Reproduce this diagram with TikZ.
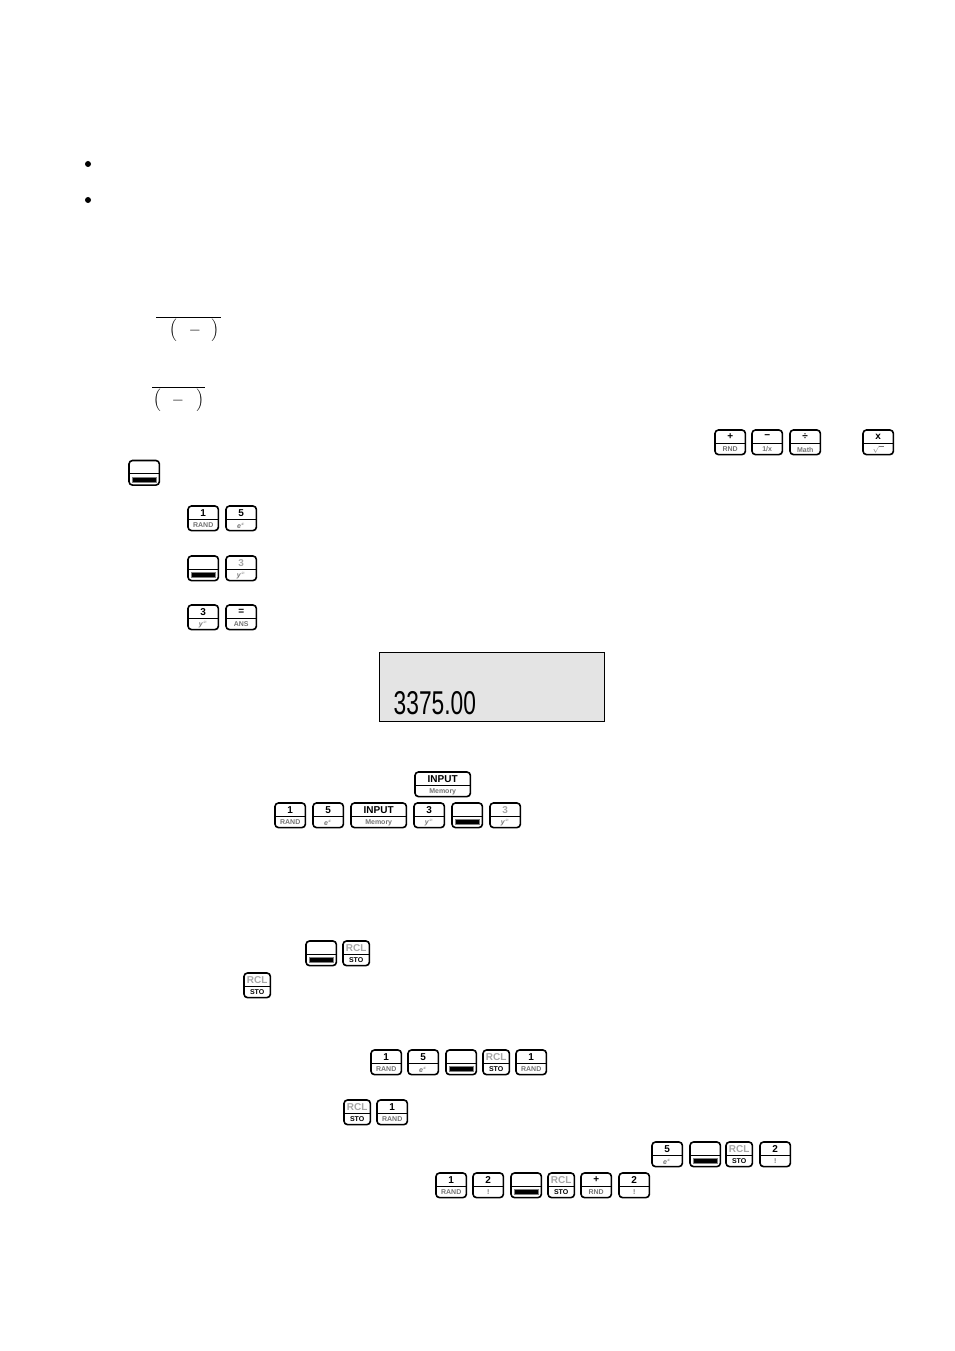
\documentclass[tikz,border=0pt]{standalone}
\usepackage{fontspec}
\setmainfont{Liberation Sans}
\definecolor{lcdgray}{HTML}{E4E4E4}
\tikzset{
  % outline of a calculator key
  keybody/.style={draw=black,line width=1.6pt,rounded corners=3.5pt,minimum height=24.6pt,inner sep=0pt,outer sep=0pt,anchor=north west},
  keytop/.style={inner sep=0pt,font=\fontsize{10}{11}\selectfont\bfseries},
  keybot/.style={inner sep=0pt,text=black!55,font=\fontsize{7}{8}\selectfont\bfseries},
  keybar/.style={fill=black,draw=black!50,line width=0.5pt},
  bullet/.style={circle,fill=black,inner sep=0pt,minimum size=6pt},
  bigsign/.style={inner sep=0pt,font=\fontsize{13}{15}\selectfont},
  overbar/.style={draw=black,line width=0.8pt},
}
% key with a top and a bottom label: name, left, top, width, labels
\newcommand{\calckey}[6]{
  \node [keybody,minimum width=#4pt-0.6pt] (#1) at (#2,#3) {};
  \path [draw=black,line width=1pt] ([yshift=-13pt]#1.north west) -- ([yshift=-13pt]#1.north east);
  \node [keytop] (#1top) at ([yshift=-7pt]#1.north) {#5};
  \node [keybot] (#1bot) at ([yshift=-19.5pt]#1.north) {#6};
}
% the key with only a black bar in its lower half
\newcommand{\barkey}[3]{
  \node [keybody,minimum width=30.4pt] (#1) at (#2,#3) {};
  \path [draw=black,line width=1pt] ([yshift=-13pt]#1.north west) -- ([yshift=-13pt]#1.north east);
  \path [keybar] ([xshift=3.5pt,yshift=-16.5pt]#1.north west) rectangle ([xshift=-3.5pt,yshift=-21.5pt]#1.north east);
}
\newcommand{\faint}[1]{\textcolor{black!35}{#1}}
\newcommand{\ysup}{\textit{y}$^{x}$}
\newcommand{\esup}{\textit{e}$^{x}$}
\newcommand{\bigparen}[1]{\scalebox{1.25}{$\Big#1$}}
\begin{document}
\begin{tikzpicture}[x=1pt,y=-1pt]
\useasboundingbox (0,0) rectangle (954,1351);
\node [bullet] (dotA) at (88,164) {};
\node [bullet] (dotB) at (88,200) {};

\coordinate (barAl) at (156,317);
\coordinate (barAr) at (221,317);
\path [overbar] (barAl) -- (barAr);
\node [bigsign] (parAl) at (173,330) {\bigparen{(}};
\node [bigsign] (minusA) at (195,331) {\scalebox{1.3}{$-$}};
\node [bigsign] (parAr) at (215,330) {\bigparen{)}};
\coordinate (barBl) at (152,387);
\coordinate (barBr) at (205,387);
\path [overbar] (barBl) -- (barBr);
\node [bigsign] (parBl) at (157,400) {\bigparen{(}};
\node [bigsign] (minusB) at (178,401) {\scalebox{1.3}{$-$}};
\node [bigsign] (parBr) at (200,400) {\bigparen{)}};

\calckey{plus}{715}{430}{31}{+}{RND}
\calckey{minus}{752}{430}{31}{\textminus}{1/x}
\calckey{divide}{790}{430}{31}{÷}{Math}
\calckey{times}{863}{430}{31}{x}{$\sqrt{\phantom{x}}$}
\barkey{shiftA}{129}{460.5}

\calckey{oneA}{188}{506}{31}{1}{RAND}
\calckey{fiveA}{226}{506}{31}{5}{\esup}
\barkey{shiftB}{188}{556}
\calckey{threeA}{226}{556}{31}{\faint{3}}{\ysup}
\calckey{threeB}{188}{605}{31}{3}{\ysup}
\calckey{equal}{226}{605}{31}{=}{ANS}

\node [draw=black,fill=lcdgray,line width=0.8pt,minimum width=225pt,minimum height=69pt,inner sep=0pt,outer sep=0pt,anchor=north west] (lcd) at (379.5,652.5) {};
\node [inner sep=0pt,anchor=west] (lcdtext) at (393.5,703) {\scalebox{0.69}[1]{\fontsize{33}{35}\selectfont 3375.00}};

\calckey{inputA}{415}{772}{56}{INPUT}{Memory}
\calckey{oneB}{275}{803}{31}{1}{RAND}
\calckey{fiveB}{313}{803}{31}{5}{\esup}
\calckey{inputB}{351}{803}{56}{INPUT}{Memory}
\calckey{threeC}{414}{803}{31}{3}{\ysup}
\barkey{shiftC}{452}{803}
\calckey{threeD}{490}{803}{31}{\faint{3}}{\ysup}

\barkey{shiftD}{306}{941}
\calckey{rclA}{343}{941}{27}{\faint{RCL}}{\textcolor{black}{STO}}
\calckey{rclB}{244}{973}{27}{\faint{RCL}}{\textcolor{black}{STO}}

\calckey{oneC}{371}{1050}{31}{1}{RAND}
\calckey{fiveC}{408}{1050}{31}{5}{\esup}
\barkey{shiftE}{446}{1050}
\calckey{rclC}{483}{1050}{27}{\faint{RCL}}{\textcolor{black}{STO}}
\calckey{oneD}{516}{1050}{31}{1}{RAND}

\calckey{rclD}{344}{1100}{27}{\faint{RCL}}{\textcolor{black}{STO}}
\calckey{oneE}{377}{1100}{31}{1}{RAND}

\calckey{fiveD}{652}{1142}{31}{5}{\esup}
\barkey{shiftF}{690}{1142}
\calckey{rclE}{726}{1142}{27}{\faint{RCL}}{\textcolor{black}{STO}}
\calckey{twoA}{760}{1142}{31}{2}{!}

\calckey{oneF}{436}{1173}{31}{1}{RAND}
\calckey{twoB}{473}{1173}{31}{2}{!}
\barkey{shiftG}{511}{1173}
\calckey{rclF}{548}{1173}{27}{\faint{RCL}}{\textcolor{black}{STO}}
\calckey{plusB}{581}{1173}{31}{+}{RND}
\calckey{twoC}{619}{1173}{31}{2}{!}
\end{tikzpicture}
\end{document}
